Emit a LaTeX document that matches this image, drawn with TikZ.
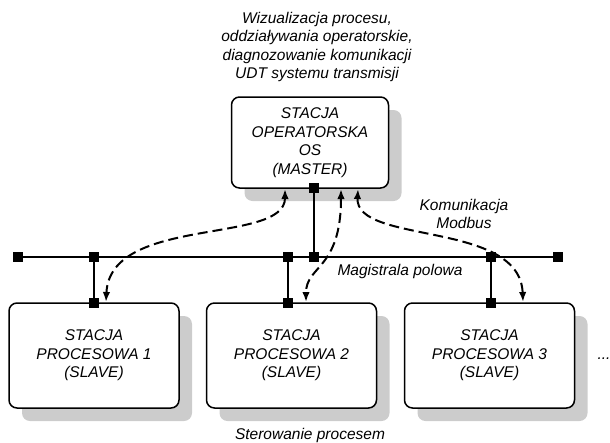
\documentclass[tikz,border=0pt]{standalone}
\usepackage{fontspec}
\setmainfont{Liberation Sans}
\usetikzlibrary{shadows, arrows.meta}

\tikzset{
	station/.style={draw, line width=1.5pt, fill=white, rounded corners=8pt, align=center,
		drop shadow={shadow xshift=13pt, shadow yshift=-13pt, fill=black!20, opacity=1}},
	term/.style={fill=black, minimum size=10pt, inner sep=0pt},
	wire/.style={line width=2.2pt},
	flow/.style={line width=2pt, dash pattern=on 10pt off 5pt,
		{Latex[length=10pt,width=7.5pt]}-{Latex[length=10pt,width=7.5pt]}},
}

\begin{document}
\begin{tikzpicture}[x=1pt, y=-1pt, font=\fontsize{15.5}{18.5}\selectfont\itshape]
	\useasboundingbox (0,0) rectangle (610,442);
	
	\node[station, minimum width=157pt, minimum height=91pt] (os) at (310,142.5) {STACJA\\OPERATORSKA\\OS\\(MASTER)};
	\node[station, minimum width=170pt, minimum height=105pt] (p1) at (94,355.5) {STACJA\\PROCESOWA 1\\(SLAVE)};
	\node[station, minimum width=170pt, minimum height=105pt] (p2) at (291.5,355.5) {STACJA\\PROCESOWA 2\\(SLAVE)};
	\node[station, minimum width=170pt, minimum height=105pt] (p3) at (489.5,355.5) {STACJA\\PROCESOWA 3\\(SLAVE)};
	
	% magistrala
	\node[term] (b0) at (18,257) {};
	\node[term] (b1) at (94,257) {};
	\node[term] (b2) at (288,257) {};
	\node[term] (b3) at (314,257) {};
	\node[term] (b4) at (491,257) {};
	\node[term] (b5) at (558,257) {};
	\draw[wire] (b0.center) -- (b5.center);
	
	\node[term] (osb) at (314,188) {};
	\node[term] (p1t) at (94,303) {};
	\node[term] (p2t) at (288,303) {};
	\node[term] (p3t) at (491,303) {};
	\draw[wire] (osb.center) -- (b3.center);
	\draw[wire] (b1.center) -- (p1t.center);
	\draw[wire] (b2.center) -- (p2t.center);
	\draw[wire] (b4.center) -- (p3t.center);
	
	% komunikacja
	\coordinate (o1) at (285,189);
	\coordinate (o2) at (341,189);
	\coordinate (o3) at (358,189);
	\coordinate (s1) at (106,302);
	\coordinate (s2) at (306,302);
	\coordinate (s3) at (523,302);
	\draw[flow] (o1) .. controls (285,245) and (110,215) .. (s1);
	\draw[flow] (o2) .. controls (341,270) and (306,265) .. (s2);
	\draw[flow] (o3) .. controls (355,245) and (520,220) .. (s3);
	
	\node[align=center] (opis) at (317,47) {Wizualizacja procesu,\\oddziaływania operatorskie,\\diagnozowanie komunikacji\\UDT systemu transmisji};
	\node[align=center] (kom) at (464,214) {Komunikacja\\Modbus};
	\node (mag) at (400,271) {Magistrala polowa};
	\node (ster) at (310,435) {Sterowanie procesem};
	\node (dalej) at (604,359) {...};
\end{tikzpicture}
\end{document}
